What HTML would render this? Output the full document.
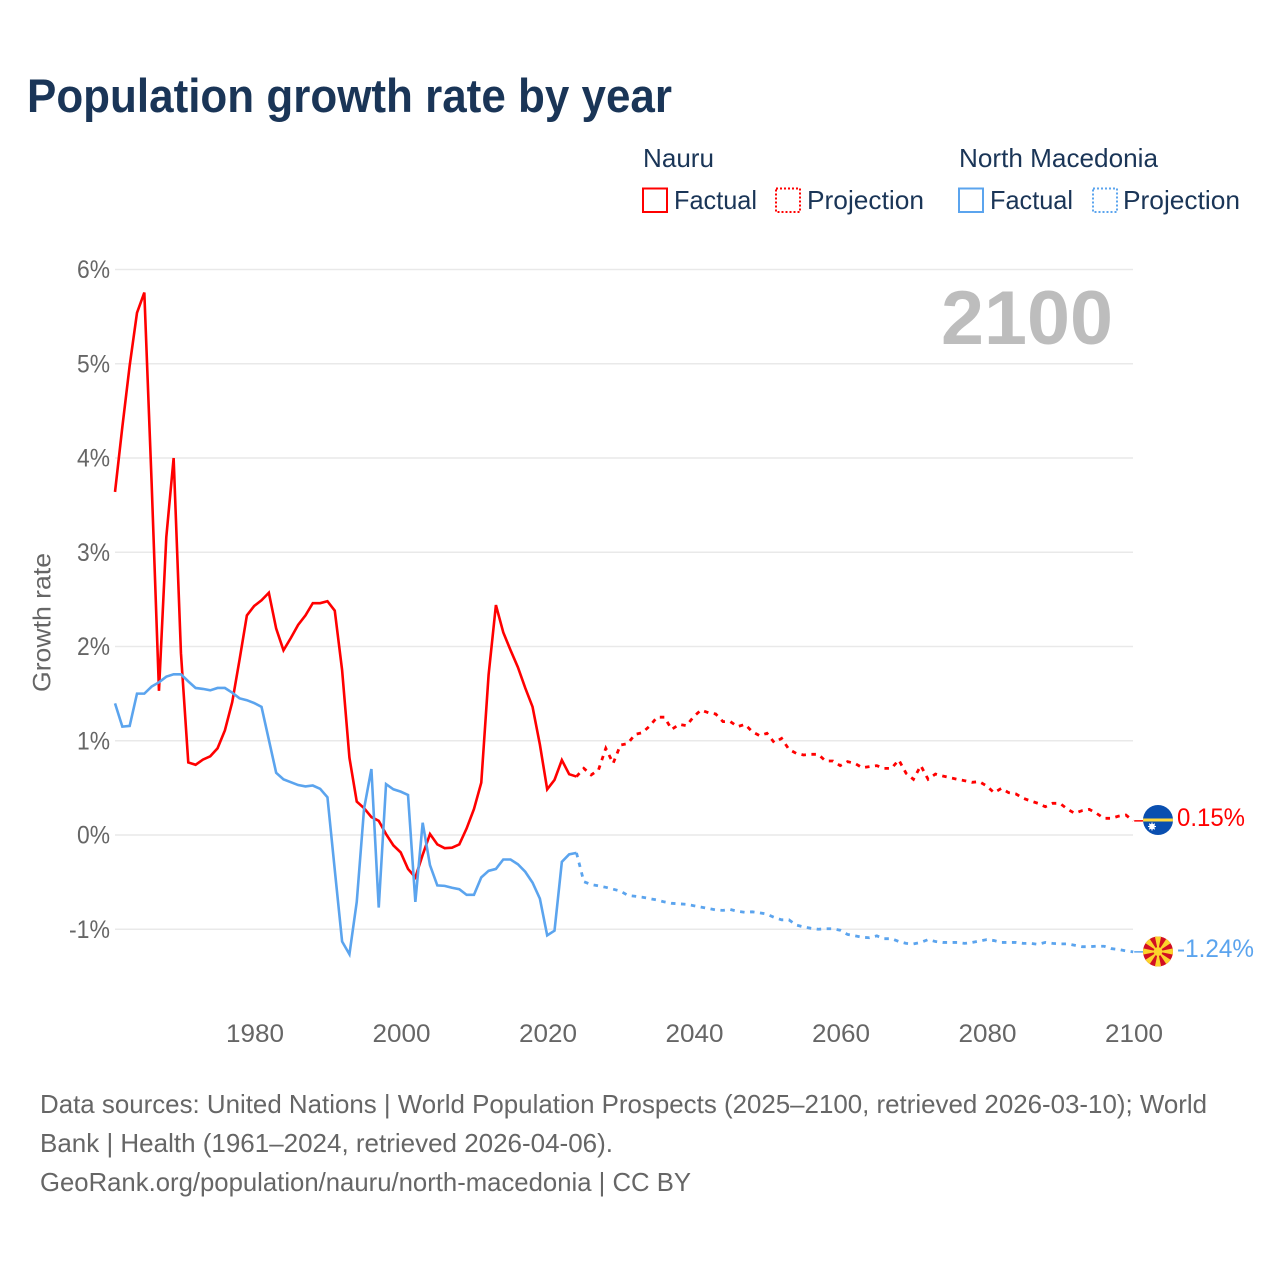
<!DOCTYPE html>
<html lang="en">
<head>
<meta charset="utf-8">
<title>Population growth rate by year</title>
<style>
html,body{margin:0;padding:0;background:#fff;width:1280px;height:1280px;overflow:hidden}
svg{display:block}
text{font-family:"Liberation Sans",sans-serif}
</style>
</head>
<body>
<svg id="chart" xmlns="http://www.w3.org/2000/svg" width="1280" height="1280" viewBox="0 0 1280 1280">
  <rect x="0" y="0" width="1280" height="1280" fill="#fff"/>
  <text x="27" y="112" font-size="47" font-weight="700" fill="#1a3557" textLength="645" lengthAdjust="spacingAndGlyphs">Population growth rate by year</text>

  <g font-size="26" fill="#1a3557">
    <text x="643" y="167" textLength="71" lengthAdjust="spacingAndGlyphs">Nauru</text>
    <text x="959" y="167" textLength="199" lengthAdjust="spacingAndGlyphs">North Macedonia</text>
    <rect x="643" y="188.500" width="24" height="23.500" fill="none" stroke="#ff0000" stroke-width="2"/>
    <text x="674" y="209" textLength="83" lengthAdjust="spacingAndGlyphs">Factual</text>
    <rect x="776" y="188.500" width="24" height="23.500" fill="none" stroke="#ff0000" stroke-width="2" stroke-dasharray="2 2"/>
    <text x="807" y="209" textLength="117" lengthAdjust="spacingAndGlyphs">Projection</text>
    <rect x="959" y="188.500" width="24" height="23.500" fill="none" stroke="#5ba4ee" stroke-width="2"/>
    <text x="990" y="209" textLength="83" lengthAdjust="spacingAndGlyphs">Factual</text>
    <rect x="1093" y="188.500" width="24" height="23.500" fill="none" stroke="#5ba4ee" stroke-width="2" stroke-dasharray="2 2"/>
    <text x="1123" y="209" textLength="117" lengthAdjust="spacingAndGlyphs">Projection</text>
  </g>

  <g id="grid"></g>
  <g id="yticks"></g>
  <g id="xticks"></g>

  <text transform="translate(50.500,692) rotate(-90)" font-size="25" fill="#666" textLength="139" lengthAdjust="spacingAndGlyphs">Growth rate</text>
  <text x="941" y="344" font-size="76" font-weight="700" fill="#bdbdbd" textLength="172" lengthAdjust="spacingAndGlyphs">2100</text>

  <g id="series"></g>

  <g>
    <clipPath id="clip-nr"><circle cx="1158" cy="820" r="15"/></clipPath>
    <g clip-path="url(#clip-nr)">
      <rect x="1143" y="805" width="30" height="30" fill="#0a4fb0"/>
      <rect x="1143" y="818.500" width="30" height="3" fill="#ffd83d"/>
      <circle cx="1152" cy="826.500" r="2.800" fill="#fff"/>
      <path d="M1152 822.500v8M1148 826.500h8M1149.200 823.700l5.600 5.600M1149.200 829.300l5.600-5.600" stroke="#fff" stroke-width="1.100"/>
    </g>
  </g>
  <g>
    <clipPath id="clip-mk"><circle cx="1158" cy="951.500" r="15"/></clipPath>
    <g clip-path="url(#clip-mk)">
      <rect x="1143" y="936.500" width="30" height="30" fill="#d20f22"/>
      <g fill="#fbd42c">
        <path d="M1158 951.500L1154.700 935.500H1161.300Z"/>
        <path d="M1158 951.500L1154.700 935.500H1161.300Z" transform="rotate(45 1158 951.500)"/>
        <path d="M1158 951.500L1154.700 935.500H1161.300Z" transform="rotate(90 1158 951.500)"/>
        <path d="M1158 951.500L1154.700 935.500H1161.300Z" transform="rotate(135 1158 951.500)"/>
        <path d="M1158 951.500L1154.700 935.500H1161.300Z" transform="rotate(180 1158 951.500)"/>
        <path d="M1158 951.500L1154.700 935.500H1161.300Z" transform="rotate(225 1158 951.500)"/>
        <path d="M1158 951.500L1154.700 935.500H1161.300Z" transform="rotate(270 1158 951.500)"/>
        <path d="M1158 951.500L1154.700 935.500H1161.300Z" transform="rotate(315 1158 951.500)"/>
      </g>
      <circle cx="1158" cy="951.500" r="4.400" fill="#fbd42c"/>
    </g>
  </g>
  <text x="1177" y="826" font-size="25" fill="#ff0000" textLength="68" lengthAdjust="spacingAndGlyphs">0.15%</text>
  <text x="1177" y="957" font-size="25" fill="#5ba4ee" textLength="77" lengthAdjust="spacingAndGlyphs">-1.24%</text>

  <g font-size="26" fill="#666">
    <text x="40" y="1113" textLength="1167" lengthAdjust="spacingAndGlyphs">Data sources: United Nations | World Population Prospects (2025–2100, retrieved 2026-03-10); World</text>
    <text x="40" y="1152" textLength="573" lengthAdjust="spacingAndGlyphs">Bank | Health (1961–2024, retrieved 2026-04-06).</text>
    <text x="40" y="1191" textLength="651" lengthAdjust="spacingAndGlyphs">GeoRank.org/population/nauru/north-macedonia | CC BY</text>
  </g>
</svg>
<script>
// Data: annual growth rate in percent.
const factualStartYear = 1961;
const projectionStartYear = 2025;
const yTickValues = [6, 5, 4, 3, 2, 1, 0, -1];
const xTickYears = [1980, 2000, 2020, 2040, 2060, 2080, 2100];
const nauruFactual = [
  3.64, 4.33, 4.98, 5.54, 5.755, 3.73, 1.53, 3.16, 4.0, 1.93,
  0.77, 0.745, 0.8, 0.835, 0.92, 1.11, 1.41, 1.86, 2.33, 2.43,
  2.49, 2.57, 2.19, 1.96, 2.09, 2.23, 2.33, 2.46, 2.46, 2.48,
  2.38, 1.75, 0.82, 0.355, 0.285, 0.19, 0.15, 0.01, -0.11, -0.185,
  -0.36, -0.45, -0.21, 0.01, -0.1, -0.14, -0.135, -0.1, 0.07, 0.275,
  0.555, 1.7, 2.44, 2.15, 1.96, 1.78, 1.56, 1.36, 0.96, 0.485,
  0.585, 0.795, 0.645, 0.62
];
const nauruProjection = [
  0.707, 0.637, 0.69, 0.92, 0.76, 0.955, 0.97, 1.068, 1.086, 1.157,
  1.25, 1.25, 1.12, 1.174, 1.16, 1.256, 1.326, 1.298, 1.284, 1.203,
  1.203, 1.15, 1.174, 1.096, 1.054, 1.079, 0.98, 1.025, 0.909, 0.866,
  0.849, 0.856, 0.856, 0.785, 0.785, 0.736, 0.778, 0.76, 0.714, 0.725,
  0.736, 0.707, 0.707, 0.796, 0.654, 0.591, 0.736, 0.591, 0.647, 0.626,
  0.608, 0.591, 0.576, 0.559, 0.566, 0.52, 0.449, 0.495, 0.449, 0.435,
  0.389, 0.361, 0.336, 0.3, 0.336, 0.336, 0.276, 0.23, 0.258, 0.272,
  0.23, 0.177, 0.177, 0.2, 0.212, 0.15
];
const macedoniaFactual = [
  1.397, 1.15, 1.157, 1.5, 1.5, 1.575, 1.62, 1.68, 1.705, 1.705,
  1.63, 1.56, 1.55, 1.535, 1.56, 1.56, 1.51, 1.45, 1.43, 1.4,
  1.36, 1.01, 0.66, 0.59, 0.56, 0.53, 0.515, 0.525, 0.49, 0.4,
  -0.37, -1.13, -1.265, -0.71, 0.28, 0.7, -0.77, 0.54, 0.485, 0.46,
  0.425, -0.71, 0.13, -0.32, -0.535, -0.54, -0.56, -0.575, -0.635, -0.635,
  -0.45, -0.38, -0.36, -0.26, -0.26, -0.31, -0.39, -0.505, -0.675, -1.065,
  -1.015, -0.285, -0.205, -0.19
];
const macedoniaProjection = [
  -0.495, -0.525, -0.54, -0.555, -0.575, -0.595, -0.64, -0.65, -0.66, -0.675,
  -0.69, -0.71, -0.725, -0.73, -0.735, -0.75, -0.765, -0.78, -0.795, -0.8,
  -0.79, -0.81, -0.82, -0.815, -0.825, -0.84, -0.875, -0.9, -0.9, -0.955,
  -0.975, -0.99, -1.0, -0.995, -0.995, -1.01, -1.055, -1.07, -1.085, -1.09,
  -1.07, -1.1, -1.1, -1.13, -1.15, -1.155, -1.14, -1.11, -1.13, -1.14,
  -1.14, -1.14, -1.15, -1.14, -1.125, -1.11, -1.12, -1.14, -1.14, -1.14,
  -1.15, -1.15, -1.16, -1.14, -1.15, -1.155, -1.155, -1.17, -1.185, -1.185,
  -1.18, -1.18, -1.205, -1.215, -1.23, -1.24
];

// Axis functions
function xScale(year) { return 254.2 + (year - 1980) * 7.325; }
function yScale(value) { return 835 - value * 94.25; }

const NS = 'http://www.w3.org/2000/svg';
const RED = '#ff0000';
const BLUE = '#5ba4ee';

function svgEl(tag, parent) {
  const el = document.createElementNS(NS, tag);
  parent.appendChild(el);
  return el;
}

function linePath(values, startYear) {
  return values.map(function (v, i) {
    return (i ? 'L' : 'M') + xScale(startYear + i).toFixed(2) + ' ' + yScale(v).toFixed(2);
  }).join('');
}

const gridGroup = document.getElementById('grid');
const yTickGroup = document.getElementById('yticks');
yTickValues.forEach(function (v) {
  const line = svgEl('line', gridGroup);
  
  
  line.setAttribute('x1', 115);
  line.setAttribute('x2', 1133);
  line.setAttribute('y1', yScale(v));
  line.setAttribute('y2', yScale(v));
  line.setAttribute('stroke', '#e9e9e9');
  line.setAttribute('stroke-width', '1.5');

  const label = String(v) + '%';
  const t = svgEl('text', yTickGroup);
  
  
  t.setAttribute('x', 110);
  t.setAttribute('y', yScale(v) + 8.5);
  t.setAttribute('text-anchor', 'end');
  t.setAttribute('font-size', '25');
  t.setAttribute('fill', '#666');
  t.setAttribute('textLength', label.length === 2 ? 33 : 41);
  t.setAttribute('lengthAdjust', 'spacingAndGlyphs');
  t.textContent = label;
});

const xTickGroup = document.getElementById('xticks');
xTickYears.forEach(function (year) {
  const t = svgEl('text', xTickGroup);
  
  
  t.setAttribute('x', xScale(year) - 28.2);
  t.setAttribute('y', 1042);
  t.setAttribute('font-size', '25');
  t.setAttribute('fill', '#666');
  t.setAttribute('textLength', 58);
  t.setAttribute('lengthAdjust', 'spacingAndGlyphs');
  t.textContent = String(year);
});

const seriesGroup = document.getElementById('series');

function drawSeries(factual, projection, color, key) {
  const lastFactualYear = factualStartYear + factual.length - 1;
  const lastYear = projectionStartYear + projection.length - 1;

  const factualLine = svgEl('path', seriesGroup);
  
  
  factualLine.setAttribute('d', linePath(factual, factualStartYear));
  factualLine.setAttribute('fill', 'none');
  factualLine.setAttribute('stroke', color);
  factualLine.setAttribute('stroke-width', '2.6');
  factualLine.setAttribute('stroke-linejoin', 'miter');

  const joined = [factual[factual.length - 1]].concat(projection);
  const projectionLine = svgEl('path', seriesGroup);
  
  
  projectionLine.setAttribute('d', linePath(joined, lastFactualYear));
  projectionLine.setAttribute('fill', 'none');
  projectionLine.setAttribute('stroke', color);
  projectionLine.setAttribute('stroke-width', '2.8');
  projectionLine.setAttribute('stroke-dasharray', '4.5 5.5');

  const endValue = projection[projection.length - 1];
  const connector = svgEl('line', seriesGroup);
  
  
  connector.setAttribute('x1', xScale(lastYear) + 1);
  connector.setAttribute('x2', xScale(lastYear) + 10);
  connector.setAttribute('y1', yScale(endValue));
  connector.setAttribute('y2', yScale(endValue));
  connector.setAttribute('stroke', color);
  connector.setAttribute('stroke-width', '1.5');
}

drawSeries(nauruFactual, nauruProjection, RED, 'nauru');
drawSeries(macedoniaFactual, macedoniaProjection, BLUE, 'north-macedonia');
</script>
</body>
</html>
